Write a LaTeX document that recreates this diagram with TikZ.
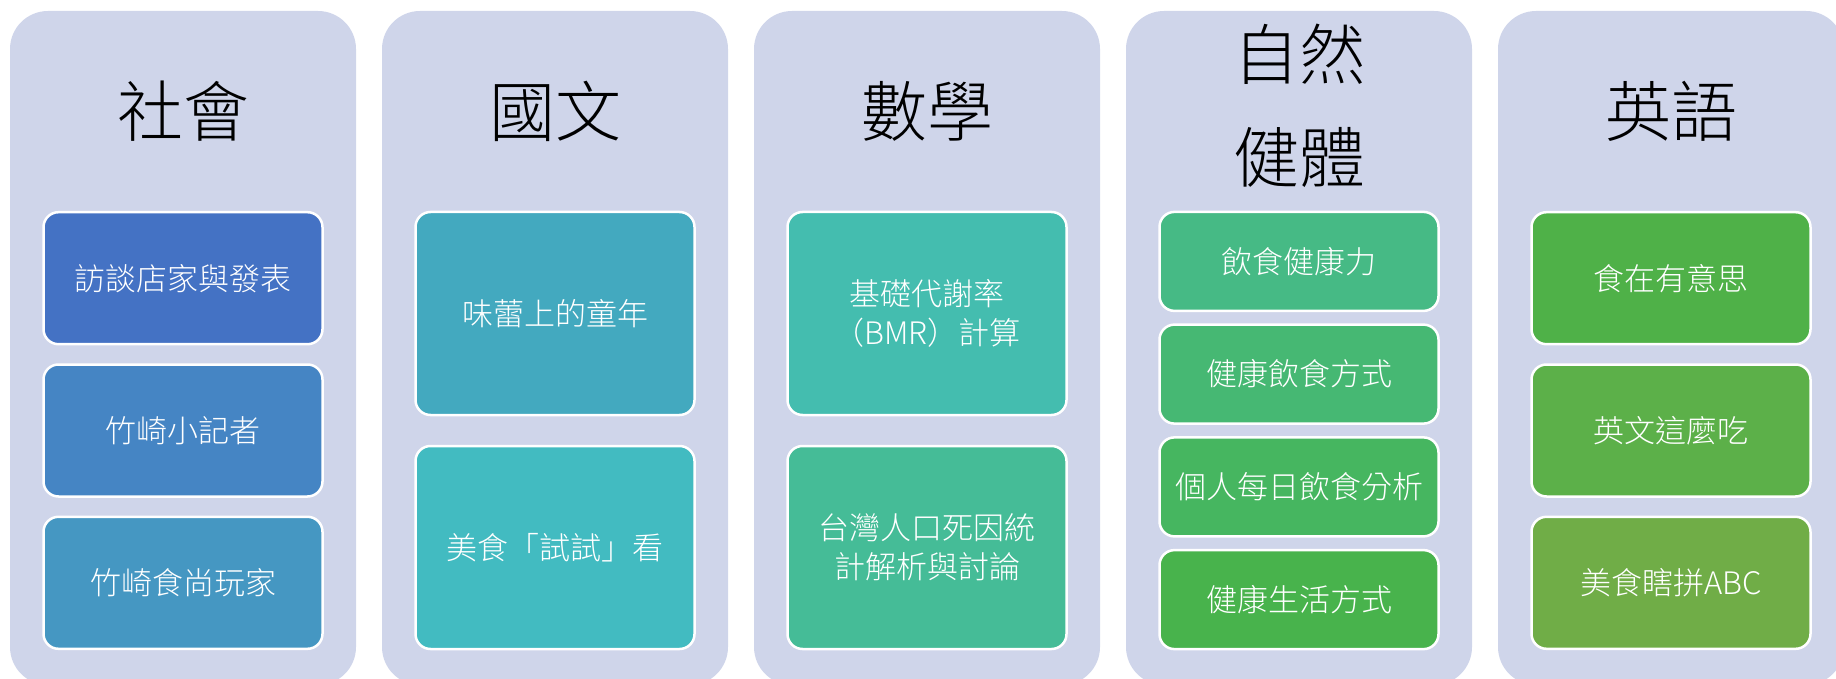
\documentclass[tikz,border=0pt]{standalone}
\usepackage{fontspec}
\setmainfont{Noto Sans CJK TC}
\newfontfamily\thinfont{Noto Sans CJK TC Light}
\definecolor{colbg}{HTML}{CFD5EA}
\definecolor{ca}{HTML}{4472C4}
\definecolor{cb}{HTML}{4585C4}
\definecolor{cc}{HTML}{4597C2}
\definecolor{cd}{HTML}{43A9BF}
\definecolor{ce}{HTML}{42BBC1}
\definecolor{cf}{HTML}{44BDAF}
\definecolor{cg}{HTML}{45BC97}
\definecolor{ch}{HTML}{46BA85}
\definecolor{ci}{HTML}{46B873}
\definecolor{cj}{HTML}{46B660}
\definecolor{ck}{HTML}{48B34C}
\definecolor{cl}{HTML}{4FB148}
\definecolor{cm}{HTML}{5CB049}
\definecolor{cn}{HTML}{70AD47}
\begin{document}
\begin{tikzpicture}[x=1pt,y=-1pt,
  colbox/.style={fill=colbg,rounded corners=38pt,minimum width=346pt,minimum height=674pt,inner sep=0pt},
  subj/.style={font=\thinfont\fontsize{66}{103}\selectfont,align=center,inner sep=0pt},
  item/.style={fill=#1,draw=white,line width=2.5pt,rounded corners=15pt,minimum width=279pt,
    text=white,font=\thinfont\fontsize{31}{39}\selectfont,align=center,inner sep=0pt},
  three/.style={minimum height=132pt},
  two/.style={minimum height=203pt},
  four/.style={minimum height=99pt}]
 \useasboundingbox (0,0) rectangle (1836,679);
 \clip (0,0) rectangle (1836,679);
 \node[colbox] (soc) at (183,348) {};
 \node[colbox] (chi) at (555,348) {};
 \node[colbox] (mat) at (927,348) {};
 \node[colbox] (sci) at (1299,348) {};
 \node[colbox] (eng) at (1671,348) {};
 \node[subj] (socT) at (183,111) {社會};
 \node[subj] (chiT) at (555,111) {國文};
 \node[subj] (matT) at (927,111) {數學};
 \node[subj] (sciT) at (1299,106) {自然\\健體};
 \node[subj] (engT) at (1671,111) {英語};
 \node[item=ca,three] (soc1) at (183,278.2) {訪談店家與發表};
 \node[item=cb,three] (soc2) at (183,430.5) {竹崎小記者};
 \node[item=cc,three] (soc3) at (183,582.8) {竹崎食尚玩家};
 \node[item=cd,two] (chi1) at (555,313.5) {味蕾上的童年};
 \node[item=ce,two] (chi2) at (555,547.5) {美食「試試」看};
 \node[item=cf,two] (mat1) at (927,313.5) {基礎代謝率\\（BMR）計算};
 \node[item=cg,two] (mat2) at (927,547.5) {台灣人口死因統\\計解析與討論};
 \node[item=ch,four] (sci1) at (1299,261.4) {飲食健康力};
 \node[item=ci,four] (sci2) at (1299,374.1) {健康飲食方式};
 \node[item=cj,four] (sci3) at (1299,486.9) {個人每日飲食分析};
 \node[item=ck,four] (sci4) at (1299,599.6) {健康生活方式};
 \node[item=cl,three] (eng1) at (1671,278.2) {食在有意思};
 \node[item=cm,three] (eng2) at (1671,430.5) {英文這麼吃};
 \node[item=cn,three] (eng3) at (1671,582.8) {美食瞎拼ABC};
\end{tikzpicture}
\end{document}
